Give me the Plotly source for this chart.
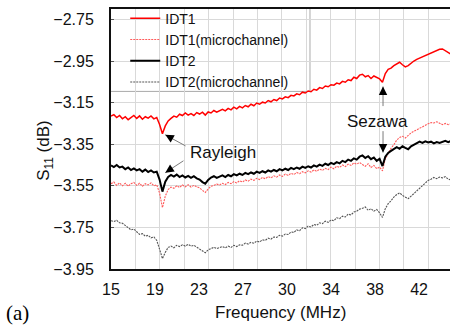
import plotly.graph_objects as go

# Frequency grid (MHz)
freq = [15.00, 15.25, 15.50, 15.75, 16.00, 16.25, 16.50, 16.75,
        17.00, 17.25, 17.50, 17.75, 18.00, 18.25, 18.50, 18.75,
        19.00, 19.25, 19.50, 19.75, 20.00, 20.25, 20.50, 20.75,
        21.00, 21.25, 21.50, 21.75, 22.00, 22.25, 22.50, 22.75,
        23.00, 23.25, 23.50, 23.75, 24.00, 24.25, 24.50, 24.75,
        25.00, 25.25, 25.50, 25.75, 26.00, 26.25, 26.50, 26.75,
        27.00, 27.25, 27.50, 27.75, 28.00, 28.25, 28.50, 28.75,
        29.00, 29.25, 29.50, 29.75, 30.00, 30.25, 30.50, 30.75,
        31.00, 31.25, 31.50, 31.75, 32.00, 32.25, 32.50, 32.75,
        33.00, 33.25, 33.50, 33.75, 34.00, 34.25, 34.50, 34.75,
        35.00, 35.25, 35.50, 35.75, 36.00, 36.25, 36.50, 36.75,
        37.00, 37.25, 37.50, 37.75, 38.00, 38.25, 38.50, 38.75,
        39.00, 39.25, 39.50, 39.75, 40.00, 40.25, 40.50, 40.75,
        41.00, 41.25, 41.50, 41.75, 42.00, 42.25, 42.50, 42.75,
        43.00, 43.25, 43.50, 43.75, 44.00, 44.25, 44.50, 44.75,
        45.00]

idt1 = [-3.215, -3.208, -3.222, -3.212, -3.228, -3.218, -3.232, -3.220,
        -3.212, -3.226, -3.214, -3.230, -3.218, -3.225, -3.214, -3.228,
        -3.222, -3.255, -3.300, -3.262, -3.238, -3.226, -3.215, -3.220,
        -3.206, -3.212, -3.200, -3.210, -3.203, -3.212, -3.198, -3.205,
        -3.196, -3.210, -3.195, -3.200, -3.188, -3.196, -3.190, -3.182,
        -3.190, -3.178, -3.185, -3.172, -3.180, -3.168, -3.175, -3.164,
        -3.170, -3.158, -3.165, -3.152, -3.158, -3.148, -3.152, -3.140,
        -3.146, -3.135, -3.140, -3.128, -3.132, -3.122, -3.126, -3.115,
        -3.118, -3.108, -3.112, -3.100, -3.104, -3.094, -3.098, -3.086,
        -3.090, -3.078, -3.082, -3.070, -3.074, -3.064, -3.066, -3.056,
        -3.060, -3.048, -3.052, -3.040, -3.044, -3.028, -3.034, -3.018,
        -3.014, -3.026, -3.020, -3.034, -3.022, -3.030, -3.036, -3.052,
        -3.010, -2.990, -2.984, -2.972, -2.962, -2.956, -2.968, -2.978,
        -2.972, -2.960, -2.950, -2.942, -2.936, -2.930, -2.924, -2.916,
        -2.912, -2.906, -2.900, -2.894, -2.892, -2.900, -2.910, -2.918,
        -2.915]

idt1_micro = [-3.540, -3.532, -3.548, -3.536, -3.550, -3.538, -3.552, -3.540,
              -3.534, -3.548, -3.538, -3.552, -3.540, -3.546, -3.536, -3.550,
              -3.545, -3.585, -3.655, -3.600, -3.568, -3.556, -3.562, -3.550,
              -3.558, -3.546, -3.555, -3.545, -3.556, -3.548, -3.555, -3.560,
              -3.572, -3.582, -3.565, -3.552, -3.548, -3.542, -3.546, -3.538,
              -3.544, -3.534, -3.540, -3.530, -3.536, -3.526, -3.532, -3.522,
              -3.528, -3.518, -3.524, -3.514, -3.520, -3.510, -3.516, -3.506,
              -3.512, -3.502, -3.508, -3.498, -3.505, -3.494, -3.500, -3.490,
              -3.496, -3.486, -3.492, -3.482, -3.488, -3.478, -3.484, -3.474,
              -3.480, -3.470, -3.476, -3.466, -3.472, -3.460, -3.468, -3.456,
              -3.462, -3.450, -3.458, -3.446, -3.452, -3.440, -3.446, -3.438,
              -3.448, -3.456, -3.444, -3.462, -3.452, -3.468, -3.460, -3.478,
              -3.420, -3.392, -3.370, -3.352, -3.330, -3.318, -3.312, -3.320,
              -3.306, -3.296, -3.288, -3.280, -3.272, -3.266, -3.258, -3.252,
              -3.246, -3.248, -3.242, -3.250, -3.256, -3.250, -3.256, -3.252,
              -3.258]

idt2 = [-3.452, -3.460, -3.450, -3.462, -3.458, -3.470, -3.462, -3.474,
        -3.466, -3.476, -3.470, -3.482, -3.472, -3.484, -3.476, -3.486,
        -3.482, -3.520, -3.578, -3.530, -3.508, -3.498, -3.506, -3.496,
        -3.508, -3.500, -3.510, -3.502, -3.512, -3.504, -3.514, -3.520,
        -3.532, -3.540, -3.522, -3.510, -3.504, -3.512, -3.506, -3.500,
        -3.508, -3.498, -3.504, -3.494, -3.500, -3.492, -3.498, -3.488,
        -3.494, -3.486, -3.492, -3.482, -3.488, -3.480, -3.486, -3.476,
        -3.482, -3.474, -3.480, -3.470, -3.476, -3.468, -3.474, -3.464,
        -3.470, -3.462, -3.468, -3.458, -3.464, -3.456, -3.462, -3.452,
        -3.458, -3.448, -3.454, -3.444, -3.450, -3.440, -3.446, -3.436,
        -3.442, -3.430, -3.436, -3.424, -3.430, -3.418, -3.424, -3.410,
        -3.404, -3.416, -3.408, -3.422, -3.414, -3.430, -3.420, -3.455,
        -3.410, -3.392, -3.382, -3.372, -3.364, -3.372, -3.360, -3.368,
        -3.374, -3.360, -3.352, -3.344, -3.338, -3.344, -3.336, -3.342,
        -3.338, -3.346, -3.340, -3.344, -3.338, -3.334, -3.340, -3.334,
        -3.338]

idt2_micro = [-3.718, -3.722, -3.716, -3.728, -3.730, -3.742, -3.750, -3.762,
              -3.758, -3.772, -3.784, -3.780, -3.792, -3.788, -3.800, -3.796,
              -3.812, -3.855, -3.900, -3.870, -3.846, -3.840, -3.848, -3.836,
              -3.842, -3.834, -3.840, -3.832, -3.840, -3.836, -3.846, -3.852,
              -3.862, -3.872, -3.858, -3.850, -3.846, -3.852, -3.848, -3.842,
              -3.848, -3.840, -3.846, -3.836, -3.842, -3.834, -3.836, -3.826,
              -3.830, -3.822, -3.826, -3.816, -3.820, -3.810, -3.812, -3.802,
              -3.806, -3.796, -3.798, -3.788, -3.792, -3.782, -3.784, -3.772,
              -3.774, -3.762, -3.766, -3.752, -3.756, -3.744, -3.748, -3.736,
              -3.740, -3.728, -3.732, -3.720, -3.726, -3.714, -3.718, -3.704,
              -3.708, -3.696, -3.700, -3.686, -3.690, -3.676, -3.672, -3.662,
              -3.658, -3.652, -3.668, -3.660, -3.672, -3.664, -3.680, -3.702,
              -3.660, -3.636, -3.622, -3.604, -3.592, -3.584, -3.596, -3.606,
              -3.612, -3.600, -3.588, -3.572, -3.560, -3.548, -3.536, -3.524,
              -3.518, -3.510, -3.516, -3.508, -3.512, -3.506, -3.518, -3.522,
              -3.516]

series_names = ["IDT1", "IDT1(microchannel)", "IDT2", "IDT2(microchannel)"]

# Axis ticks
x_tick_pos = [15.0, 18.85, 22.7, 26.55, 30.4, 34.25, 38.1, 41.95]
x_tick_text = ["15", "19", "23", "27", "30", "34", "38", "42"]
x_grid_pos = [17.135, 19.27, 21.405, 23.54, 25.675, 27.81, 29.945,
              32.08, 34.215, 36.35, 38.485, 40.62, 42.755]
y_tick_vals = [-3.95, -3.75, -3.55, -3.35, -3.15, -2.95, -2.75]

FONT = "Liberation Sans, Arial, sans-serif"

fig = go.Figure()
styles = [
    dict(color="#ff0000", width=1.5, dash="solid"),
    dict(color="#ff5a5a", width=1.1, dash="2px,1px"),
    dict(color="#000000", width=2.0, dash="solid"),
    dict(color="#555555", width=1.1, dash="2px,1px"),
]
for name, ys, st in zip(series_names, [idt1, idt1_micro, idt2, idt2_micro], styles):
    fig.add_trace(go.Scatter(x=freq, y=ys, mode="lines", name=name, line=st))

fig.update_layout(
    width=450, height=327,
    margin=dict(l=111, r=0, t=9, b=58),
    paper_bgcolor="white", plot_bgcolor="white",
    font=dict(family=FONT, size=16, color="#111111"),
    showlegend=True,
    legend=dict(x=0.042, y=1.024, xanchor="left", yanchor="top",
                bgcolor="rgba(0,0,0,0)", borderwidth=0,
                font=dict(family=FONT, size=14, color="#111111"),
                tracegroupgap=0),
    xaxis=dict(range=[15, 44.66], tickvals=x_tick_pos, ticktext=x_tick_text,
               showgrid=False, zeroline=False, ticks="",
               showline=True, linecolor="#111111", linewidth=1.6, mirror=True,
               ticklabelstandoff=5,
               tickfont=dict(family=FONT, size=16, color="#111111"),
               minor=dict(tickvals=x_grid_pos, showgrid=True,
                          gridcolor="#d9d9d9", gridwidth=1, ticks="")),
    yaxis=dict(range=[-3.95, -2.70], tickvals=y_tick_vals, tickformat=".2f",
               showgrid=True, gridcolor="#d9d9d9", gridwidth=1, zeroline=False,
               ticks="inside", ticklen=3, tickcolor="#555555",
               showline=True, linecolor="#111111", linewidth=2,
               ticklabelstandoff=12,
               tickfont=dict(family=FONT, size=16, color="#111111")),
)

# legend box (covers gridlines, below traces)
fig.add_shape(type="rect", xref="paper", yref="paper",
              x0=0, x1=0.587, y0=0.683, y1=1.0,
              fillcolor="white", line=dict(width=0), layer="between")
fig.add_shape(type="path", xref="paper", yref="paper",
              path="M 0,0.683 L 0.587,0.683 L 0.587,1",
              line=dict(color="#aaaaaa", width=1), layer="between")

# axis titles and panel label
fig.add_annotation(text="Frequency (MHz)", xref="paper", yref="paper",
                   x=0.5, y=-0.169, showarrow=False,
                   font=dict(family=FONT, size=17, color="#111111"),
                   xanchor="center", yanchor="middle")
fig.add_annotation(text="S<sub>11</sub> (dB)", xref="paper", yref="paper",
                   x=-0.195, y=0.458, showarrow=False, textangle=-90,
                   font=dict(family=FONT, size=17, color="#111111"),
                   xanchor="center", yanchor="middle")
fig.add_annotation(text="(a)", xref="paper", yref="paper",
                   x=-0.277, y=-0.169, showarrow=False,
                   font=dict(family="Liberation Serif, Times New Roman, serif", size=21, color="#000000"),
                   xanchor="center", yanchor="middle")

# mode labels
fig.add_annotation(text="Rayleigh", x=24.8, y=-3.391, showarrow=False,
                   font=dict(family=FONT, size=17, color="#111111"))
fig.add_annotation(text="Sezawa", x=38.36, y=-3.242, showarrow=False,
                   font=dict(family=FONT, size=17, color="#111111"))

# arrows: (tail_x, tail_y, head_x, head_y) in data units
arrows = [
    (21.65, -3.362, 19.75, -3.305),
    (21.47, -3.425, 19.75, -3.487),
    (38.8, -3.174, 38.8, -3.073),
    (38.8, -3.280, 38.8, -3.390),
]
for tx, ty, hx, hy in arrows:
    fig.add_annotation(x=hx, y=hy, ax=tx, ay=ty, axref="x", ayref="y",
                       text="", showarrow=True, arrowhead=0,
                       arrowwidth=1, arrowcolor="#7a7a7a", standoff=0)
    # black head
    dx = hx - tx
    dy = hy - ty
    fig.add_annotation(x=hx, y=hy, ax=hx - dx * 0.3, ay=hy - dy * 0.3,
                       axref="x", ayref="y",
                       text="", showarrow=True, arrowhead=2, arrowsize=1.3,
                       arrowwidth=1.3, arrowcolor="#000000", standoff=0)

fig.write_html("out.html")
